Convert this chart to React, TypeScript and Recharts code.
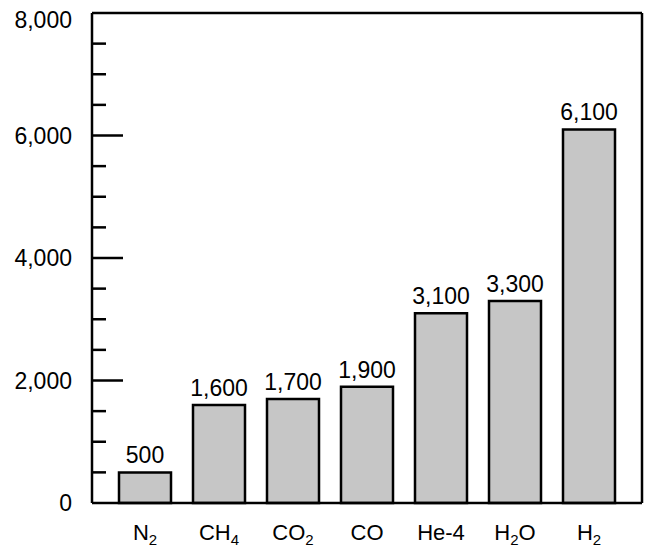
import { BarChart, Bar, XAxis, YAxis, LabelList } from 'recharts';

// gas names split into parts: odd-indexed parts are subscripts
const gasParts = [['N', '2'], ['CH', '4'], ['CO', '2'], ['CO'], ['He-4'], ['H', '2', 'O'], ['H', '2']];
const gasKeys = ['N2', 'CH4', 'CO2', 'CO', 'He-4', 'H2O', 'H2'];
const values = [500, 1600, 1700, 1900, 3100, 3300, 6100];
const yTicks = [0, 500, 1000, 1500, 2000, 2500, 3000, 3500, 4000, 4500, 5000, 5500, 6000, 6500, 7000, 7500, 8000];

const data = gasKeys.map((g, i) => ({ gas: g, value: values[i] }));

const FONT = '"Liberation Sans", Arial, Helvetica, sans-serif';
const TICK_MARGIN = 20;

const YTick = (props: any) => {
  const { x, y, payload } = props;
  const v = payload.value as number;
  const major = v % 2000 === 0;
  const axisX = x + TICK_MARGIN;
  return (
    <g>
      {v > 0 && v < 8000 && (
        <line x1={axisX} x2={axisX + (major ? 31 : 14)} y1={y} y2={y} stroke="#000" strokeWidth={2.5} />
      )}
      {major && (
        <text x={x} y={y + (v === 8000 ? 7 : 0)} textAnchor="end" dominantBaseline="central"
          fontFamily={FONT} fontSize={23} fill="#000">
          {v.toLocaleString('en-US')}
        </text>
      )}
    </g>
  );
};

const XTick = (props: any) => {
  const { x, y, index } = props;
  const parts = gasParts[index] ?? [];
  return (
    <text x={x} y={y + 37} textAnchor="middle" fontFamily={FONT} fontSize={22} fill="#000">
      {parts.map((p, i) =>
        i % 2 === 1 ? (
          <tspan key={i} fontSize={15} dy={5}>{p}</tspan>
        ) : (
          <tspan key={i} dy={i > 0 ? -5 : 0}>{p}</tspan>
        )
      )}
    </text>
  );
};

export default function App() {
  return (
    <div style={{ position: 'absolute', left: 0, top: 0, background: '#fff' }}>
      <BarChart width={651} height={547} data={data} margin={{ top: 12, right: 8, bottom: 0, left: 0 }} barSize={52}>
        <XAxis
          dataKey="gas"
          height={44}
          padding={{ left: 16, right: 16 }}
          axisLine={{ stroke: '#000', strokeWidth: 2.5 }}
          tickLine={false}
          tickSize={0}
          tickMargin={0}
          tick={<XTick />}
          interval={0}
        />
        <XAxis xAxisId="top" dataKey="gas" orientation="top" height={1} tick={false} tickLine={false}
          axisLine={{ stroke: '#000', strokeWidth: 2.5 }} />
        <YAxis
          width={92}
          domain={[0, 8000]}
          ticks={yTicks}
          interval={0}
          axisLine={{ stroke: '#000', strokeWidth: 2.5 }}
          tickLine={false}
          tickSize={0}
          tickMargin={TICK_MARGIN}
          tick={<YTick />}
        />
        <YAxis yAxisId="right" orientation="right" width={1} domain={[0, 8000]} tick={false} tickLine={false}
          axisLine={{ stroke: '#000', strokeWidth: 2.5 }} />
        <Bar dataKey="value" fill="#c6c6c6" stroke="#000" strokeWidth={2.5} isAnimationActive={false}>
          <LabelList
            dataKey="value"
            position="top"
            offset={9}
            formatter={(v: any) => Number(v).toLocaleString('en-US')}
            fill="#000"
            fontSize={23}
            fontFamily={FONT}
          />
        </Bar>
      </BarChart>
    </div>
  );
}
